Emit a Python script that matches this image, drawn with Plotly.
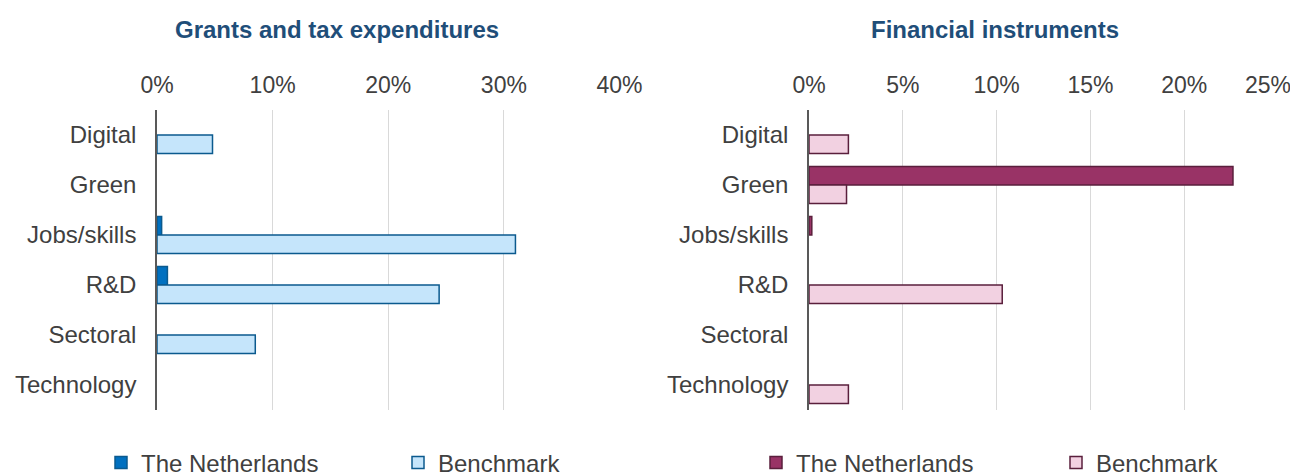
import plotly.graph_objects as go

categories = ["Digital", "Green", "Jobs/skills", "R&D", "Sectoral", "Technology"]

# Grants and tax expenditures (% share); None = no bar
grants_nl = [None, None, 0.4, 0.9, None, None]
grants_bench = [4.8, None, 31.0, 24.4, 8.5, None]

# Financial instruments (% share); None = no bar
fin_nl = [None, 22.6, 0.15, None, None, None]
fin_bench = [2.1, 2.0, None, 10.3, None, 2.1]

left_ticks = [0, 10, 20, 30, 40]
left_labels = ["0%", "10%", "20%", "30%", "40%"]
right_ticks = [0, 5, 10, 15, 20, 25]
right_labels = ["0%", "5%", "10%", "15%", "20%", "25%"]

FONT = "Liberation Sans, Arial, sans-serif"
TXT = "#404040"
TITLE_C = "#1f4e79"
FS = 24
TFS = 23

# the last right-hand tick label is drawn at its axis value but nudged left (as in the original)
right_ticktext = right_labels[:-1] + [""]

fig = go.Figure()

fig.add_trace(go.Bar(y=categories, x=grants_nl, orientation="h", name="The Netherlands",
                     marker=dict(color="#0070c0", line=dict(color="#0b5a8e", width=1.5)),
                     xaxis="x", yaxis="y", legend="legend"))
fig.add_trace(go.Bar(y=categories, x=grants_bench, orientation="h", name="Benchmark",
                     marker=dict(color="#c5e5fb", line=dict(color="#0b5a8e", width=1.5)),
                     xaxis="x", yaxis="y", legend="legend"))
fig.add_trace(go.Bar(y=categories, x=fin_nl, orientation="h", name="The Netherlands",
                     marker=dict(color="#993366", line=dict(color="#5a1f3c", width=1.5)),
                     xaxis="x2", yaxis="y2", legend="legend2"))
fig.add_trace(go.Bar(y=categories, x=fin_bench, orientation="h", name="Benchmark",
                     marker=dict(color="#f2d1e1", line=dict(color="#5a1f3c", width=1.5)),
                     xaxis="x2", yaxis="y2", legend="legend2"))

W, H = 1298, 475
OFF = 8  # browser body margin shifts the figure by 8px
ydom = [1 - (410 - OFF) / H, 1 - (110 - OFF) / H]

xcommon = dict(side="top", showgrid=True, gridcolor="#d9d9d9", gridwidth=1,
               zeroline=False, showline=False, ticks="", automargin=False,
               ticklabeloverflow="allow",
               tickfont=dict(family=FONT, size=TFS, color=TXT), ticklabelstandoff=11)
ycommon = dict(autorange="reversed", showline=True, linecolor="#595959", linewidth=1.5,
               ticks="", showgrid=False, automargin=False,
               tickfont=dict(family=FONT, size=FS, color=TXT),
               ticklabelstandoff=14, domain=ydom)

fig.update_layout(
    template="none",
    width=W, height=H,
    margin=dict(l=0, r=0, t=0, b=0, autoexpand=False),
    plot_bgcolor="white", paper_bgcolor="white",
    barmode="group", bargap=0.26, bargroupgap=0,
    font=dict(family=FONT, color=TXT, size=FS),
    xaxis=dict(domain=[(157 - OFF) / W, (619.5 - OFF) / W], range=[0, 40], tickvals=left_ticks,
               ticktext=left_labels, anchor="y", **xcommon),
    yaxis=dict(anchor="x", **ycommon),
    xaxis2=dict(domain=[(809 - OFF) / W, (1278 - OFF) / W], range=[0, 25], tickvals=right_ticks,
                ticktext=right_ticktext, anchor="y2", **xcommon),
    yaxis2=dict(anchor="x2", **ycommon),
    legend=dict(orientation="h", x=93 / W, y=1 - (463 - OFF) / H, xanchor="left", yanchor="middle",
                entrywidth=252, entrywidthmode="pixels", itemwidth=30,
                font=dict(family=FONT, size=FS, color=TXT), bgcolor="rgba(0,0,0,0)"),
    legend2=dict(orientation="h", x=748 / W, y=1 - (463 - OFF) / H, xanchor="left", yanchor="middle",
                 entrywidth=255, entrywidthmode="pixels", itemwidth=30,
                 font=dict(family=FONT, size=FS, color=TXT), bgcolor="rgba(0,0,0,0)"),
    annotations=[
        dict(text="<b>Grants and tax expenditures</b>", x=(337 - OFF) / W, y=1 - (30 - OFF) / H,
             xref="paper", yref="paper", showarrow=False, xanchor="center", yanchor="middle",
             font=dict(family=FONT, size=FS, color=TITLE_C)),
        dict(text="<b>Financial instruments</b>", x=(995 - OFF) / W, y=1 - (30 - OFF) / H,
             xref="paper", yref="paper", showarrow=False, xanchor="center", yanchor="middle",
             font=dict(family=FONT, size=FS, color=TITLE_C)),
        dict(text=right_labels[-1], x=right_ticks[-1], xref="x2", y=1 - (85 - OFF) / H, yref="paper",
             showarrow=False, xanchor="center", yanchor="middle", xshift=-10,
             font=dict(family=FONT, size=TFS, color=TXT)),
    ],
)

fig.write_html("out.html")
